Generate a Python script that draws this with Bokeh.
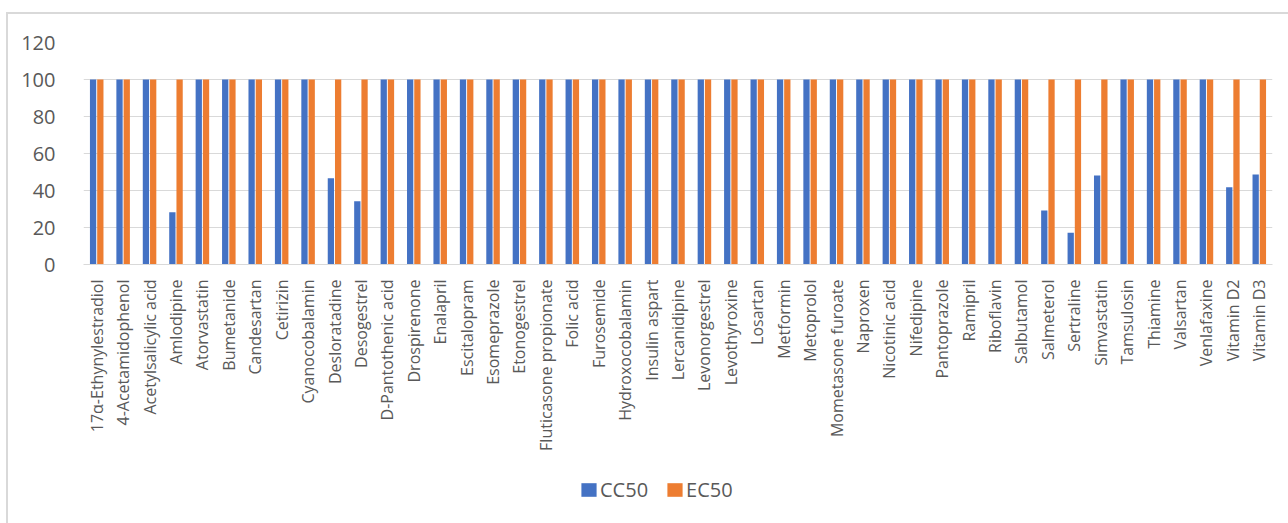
import math

from bokeh.plotting import figure
from bokeh.layouts import column
from bokeh.models import (ColumnDataSource, FactorRange, Range1d, FixedTicker,
                          Legend, LegendItem)
from bokeh.transform import dodge
from bokeh.embed import file_html
from bokeh.resources import INLINE

drugs = [
    "17α-Ethynylestradiol", "4-Acetamidophenol", "Acetylsalicylic acid", "Amlodipine",
    "Atorvastatin", "Bumetanide", "Candesartan", "Cetirizin", "Cyanocobalamin",
    "Desloratadine", "Desogestrel", "D-Pantothenic acid", "Drospirenone", "Enalapril",
    "Escitalopram", "Esomeprazole", "Etonogestrel", "Fluticasone propionate", "Folic acid",
    "Furosemide", "Hydroxocobalamin", "Insulin aspart", "Lercanidipine", "Levonorgestrel",
    "Levothyroxine", "Losartan", "Metformin", "Metoprolol", "Mometasone furoate",
    "Naproxen", "Nicotinic acid", "Nifedipine", "Pantoprazole", "Ramipril", "Riboflavin",
    "Salbutamol", "Salmeterol", "Sertraline", "Simvastatin", "Tamsulosin", "Thiamine",
    "Valsartan", "Venlafaxine", "Vitamin D2", "Vitamin D3",
]

cc50 = [
    100, 100, 100, 28.3, 100, 100, 100, 100, 100,
    46.6, 34.2, 100, 100, 100, 100, 100, 100, 100, 100,
    100, 100, 100, 100, 100, 100, 100, 100, 100, 100,
    100, 100, 100, 100, 100, 100, 100, 29.2, 17.2, 48.1,
    100, 100, 100, 100, 41.8, 48.6,
]

ec50 = [100] * 45

series = ["CC50", "EC50"]
y_ticks = [0, 20, 40, 60, 80, 100, 120]

FONT = "Open Sans"
TEXT = "#595959"
GRID = "#D9D9D9"
BLUE = "#4472C4"
ORANGE = "#ED7D31"

src = ColumnDataSource(dict(drug=drugs, cc50=cc50, ec50=ec50))

# ---- bar chart -------------------------------------------------------------
p = figure(
    width=1288, height=465,
    x_range=FactorRange(*drugs, range_padding=0),
    y_range=Range1d(0, 120),
    output_backend="svg", toolbar_location=None,
    min_border_left=83, min_border_right=16,
    min_border_top=42, min_border_bottom=201,
    background_fill_color="white", border_fill_color=None,
)
p.outline_line_color = None

p.vbar(x=dodge("drug", -0.137, range=p.x_range), top="cc50", width=0.238,
       source=src, color=BLUE, line_color=None)
p.vbar(x=dodge("drug", 0.137, range=p.x_range), top="ec50", width=0.238,
       source=src, color=ORANGE, line_color=None)

# y axis: labels only, light horizontal gridlines
p.yaxis.ticker = FixedTicker(ticks=y_ticks)
p.yaxis.axis_line_color = None
p.yaxis.major_tick_line_color = None
p.yaxis.minor_tick_line_color = None
p.yaxis.major_label_text_font = FONT
p.yaxis.major_label_text_font_size = "20px"
p.yaxis.major_label_text_color = TEXT
p.yaxis.major_label_standoff = 22
p.ygrid.ticker = FixedTicker(ticks=y_ticks)
p.ygrid.grid_line_color = GRID
p.ygrid.grid_line_width = 1.2
p.xgrid.grid_line_color = None

# x axis: drug names reading upwards
p.xaxis.axis_line_color = GRID
p.xaxis.axis_line_width = 1.2
p.xaxis.major_tick_line_color = None
p.xaxis.minor_tick_line_color = None
p.xaxis.major_label_orientation = math.pi / 2
p.xaxis.major_label_text_font = FONT
p.xaxis.major_label_text_font_size = "16px"
p.xaxis.major_label_text_color = TEXT
p.xaxis.major_label_standoff = 9

# ---- legend strip under the chart -----------------------------------------
lg = figure(
    width=1288, height=58,
    x_range=Range1d(0, 1), y_range=Range1d(0, 1),
    x_axis_type=None, y_axis_type=None,
    output_backend="svg", toolbar_location=None, min_border=0,
    background_fill_color=None, border_fill_color=None,
)
lg.outline_line_color = None
lg.grid.visible = False

# zero-height bars that only supply the legend swatches
key_src = ColumnDataSource(dict(x=[0.5], h=[0]))
key_cc = lg.vbar(x="x", top="h", bottom="h", width=0.01, source=key_src,
                 color=BLUE, line_color=None)
key_ec = lg.vbar(x="x", top="h", bottom="h", width=0.01, source=key_src,
                 color=ORANGE, line_color=None)

legend = Legend(
    items=[LegendItem(label=series[0], renderers=[key_cc]),
           LegendItem(label=series[1], renderers=[key_ec])],
    orientation="horizontal",
    location=(496, 20),
    padding=0, margin=0, spacing=17,
    glyph_width=19, glyph_height=17, label_standoff=2,
    label_text_font=FONT, label_text_font_size="20px", label_text_color=TEXT,
    border_line_color=None, background_fill_alpha=0,
)
lg.add_layout(legend, "center")

layout = column(p, lg, spacing=0)
# thin light-grey chart border on the left and top edges
layout.styles = {
    "background": (
        "linear-gradient(#D9D9D9, #D9D9D9) 6px 12px / 2px 700px no-repeat, "
        "linear-gradient(#D9D9D9, #D9D9D9) 6px 12px / 1500px 2px no-repeat, white"
    ),
}

open("out.html", "w").write(file_html(layout, INLINE))
